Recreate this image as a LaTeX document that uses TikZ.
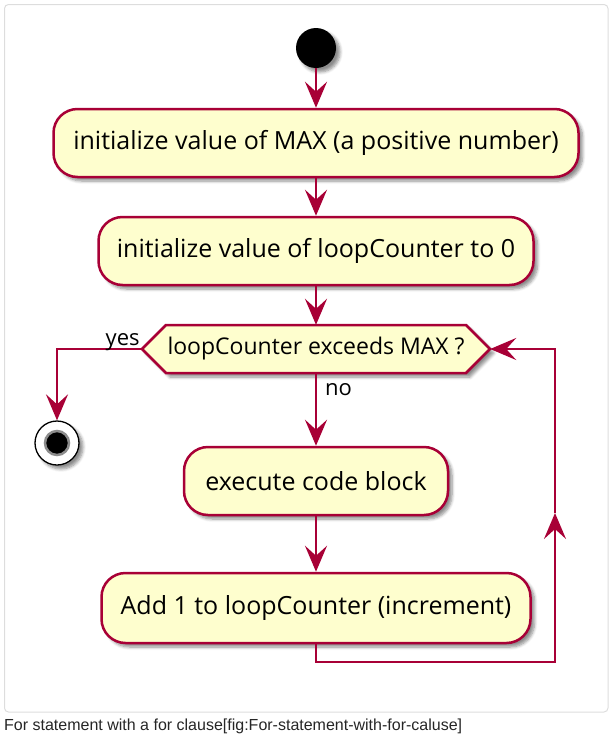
\documentclass[tikz,border=0pt]{standalone}
\usepackage{fontspec}
\setmainfont{Open Sans}
\newfontfamily\capfont{Liberation Sans}
\usetikzlibrary{arrows.meta}
\usetikzlibrary{shadows.blur}
\definecolor{umlred}{HTML}{A80036}
\definecolor{umlbg}{HTML}{FEFECE}
\definecolor{frmgray}{HTML}{DDDDDD}
\tikzset{umlp/.style={
  x=1pt,
  y=-1pt
}}
\tikzset{shd/.style={
  blur shadow={shadow xshift=4pt,shadow yshift=-4pt,
    shadow blur radius=3pt,shadow blur steps=6,shadow opacity=45}
}}
\tikzset{txt/.style={
  font=\fontsize{25}{30}\selectfont
}}
\tikzset{lbl/.style={
  font=\fontsize{22}{26}\selectfont,
  inner sep=0pt
}}
\tikzset{actn/.style={
  txt,
  draw=umlred,
  fill=umlbg,
  line width=2.5pt,
  shape=rectangle,
  rounded corners=24pt,
  minimum height=68pt,
  shd,
}}
\tikzset{dcn/.style={
  draw=umlred,
  fill=umlbg,
  line width=2.5pt,
  shd,
}}
\tikzset{flw/.style={
  draw=umlred,
  line width=2.5pt,
  -{Stealth[length=26pt,width=22pt,inset=10pt]}
}}

\begin{document}
\begin{tikzpicture}[umlp]

    \useasboundingbox (0,0) rectangle (611,739);

    %% Frame and caption
    \draw[frmgray,line width=1pt,rounded corners=4pt] (4.5,4.5) rectangle (608,712);
    \node[anchor=base west,inner sep=0pt,text=black!85,
      font=\capfont\fontsize{16}{18}\selectfont] (cap) at (4,730)
      {For statement with a for clause[fig:For-statement-with-for-caluse]};

    %% Activities

    % Start and the two set-up steps
    \node[circle,fill=black,minimum size=40pt,inner sep=0pt,shd] (start) at (316,48) {};
    \node[actn,minimum width=525pt] (maxv) at (316,143)
      {initialize value of MAX (a positive number)};
    \node[actn,minimum width=435pt] (cntz) at (316,251)
      {initialize value of loopCounter to 0};

    % Decision
    \coordinate (chkc) at (316,349);
    \path[dcn] (chkc) ++(-174,0) -- ++(24,-24) -- ++(300,0)
      -- ++(24,24) -- ++(-24,24) -- ++(-300,0) -- cycle;
    \node[font=\fontsize{23}{27}\selectfont,minimum width=348pt,minimum height=48pt,
      inner sep=0pt] (chk) at (chkc) {loopCounter exceeds MAX ?};

    % Stop
    \node[circle,draw=black,line width=1.3pt,fill=white,minimum size=44pt,
      inner sep=0pt,shd] (stop) at (57,443) {};
    \node[circle,fill=black,draw=black!45,line width=2.5pt,minimum size=24pt,
      inner sep=0pt] (stopin) at (stop) {};

    % Loop body
    \node[actn,minimum width=264pt] (exec) at (316,481) {execute code block};
    \node[actn,minimum width=429pt,minimum height=70pt] (incr) at (316,608)
      {Add 1 to loopCounter (increment)};

    %% Flows
    \draw[flw] (start) -- (maxv);
    \draw[flw] (maxv) -- (cntz);
    \draw[flw] (cntz) -- (chk);
    \draw[flw] (chk.west) -| (stop);
    \node[lbl,anchor=base east,xshift=-2pt,yshift=4pt] (yes) at (chk.west) {yes};
    \draw[flw] (chk) -- (exec);
    \node[lbl,anchor=base west,xshift=9pt,yshift=-22pt] (no) at (chk.south) {no};
    \draw[flw] (exec) -- (incr);

    % Back to the test
    \coordinate (lpbot) at (316,662);
    \coordinate (lpcor) at (555,662);
    \coordinate (lpmid) at (555,513);
    \draw[flw] (incr.south) -- (lpbot) -- (lpcor) -- (lpmid);
    \draw[flw] (lpmid) -- (lpcor |- chk.east) -- (chk.east);

  \end{tikzpicture}
\end{document}
